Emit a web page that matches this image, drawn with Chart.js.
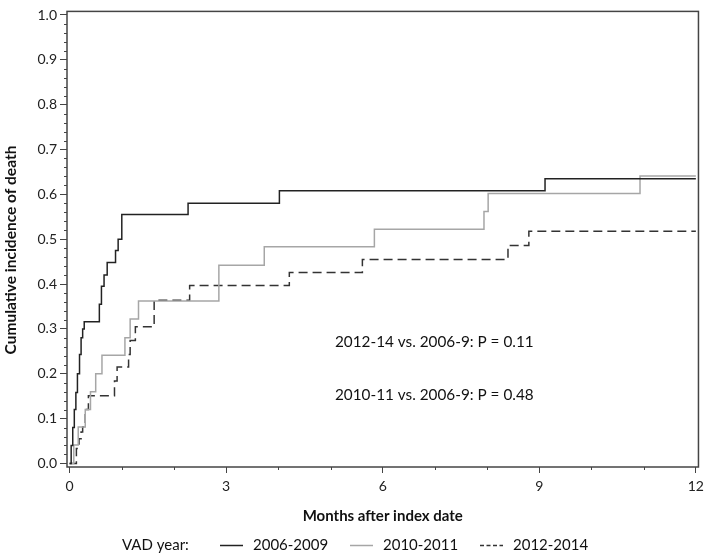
<!DOCTYPE html>
<html>
<head>
<meta charset="utf-8">
<script src="https://cdn.jsdelivr.net/npm/chart.js@4.4.0/dist/chart.umd.min.js"></script>
<style>
    html, body { margin: 0; padding: 0; background: #fff; }
    #wrap { width: 709px; height: 557px; }
</style>
</head>
<body>
<div id="wrap"><canvas id="cifChart" width="709" height="557"></canvas></div>
<script>
// Cumulative incidence of death by VAD year (step points: month of event, cumulative value after it)
const months0609 = [0, 0.03, 0.06, 0.09, 0.12, 0.15, 0.19, 0.22, 0.25, 0.28, 0.57, 0.61, 0.66, 0.72, 0.88, 0.93, 1.0, 2.27, 4.02, 9.11, 12];
const cif0609    = [0, 0.04, 0.08, 0.12, 0.158, 0.2, 0.243, 0.28, 0.3, 0.316, 0.355, 0.395, 0.42, 0.448, 0.475, 0.5, 0.555, 0.58, 0.608, 0.635, 0.635];

const months1011 = [0, 0.08, 0.165, 0.3, 0.4, 0.5, 0.62, 1.06, 1.16, 1.32, 2.86, 3.73, 5.84, 7.94, 8.02, 10.93, 12];
const cif1011    = [0, 0.041, 0.081, 0.12, 0.16, 0.2, 0.241, 0.28, 0.322, 0.362, 0.442, 0.483, 0.522, 0.562, 0.602, 0.641, 0.641];

const months1214 = [0, 0.13, 0.18, 0.22, 0.25, 0.3, 0.36, 0.86, 0.91, 1.13, 1.16, 1.26, 1.62, 2.3, 4.21, 5.61, 8.4, 8.8, 12];
const cif1214    = [0, 0.033, 0.055, 0.07, 0.081, 0.12, 0.151, 0.184, 0.215, 0.243, 0.274, 0.305, 0.364, 0.397, 0.426, 0.455, 0.486, 0.518, 0.518];

const seriesLabels = ['2006-2009', '2010-2011', '2012-2014'];
const xTickValues = [0, 3, 6, 9, 12];
const xMinorTicks = [1, 2, 4, 5, 7, 8, 10, 11];
const yTickValues = [0, 0.1, 0.2, 0.3, 0.4, 0.5, 0.6, 0.7, 0.8, 0.9, 1.0];
const pValueNotes = ['2012-14 vs. 2006-9: P = 0.11', '2010-11 vs. 2006-9: P = 0.48'];

const FONT = 'Lato, "DejaVu Sans", sans-serif';
const AXIS = '#444';

function toPoints(xs, ys) {
    return xs.map((x, i) => ({ x: x, y: ys[i] }));
}

// frame, minor ticks, titles, p-values and the inline legend
const extrasPlugin = {
    id: 'extras',
    afterDraw(chart) {
        const { ctx, chartArea: a, scales: { x, y } } = chart;
        ctx.save();

        ctx.strokeStyle = AXIS;
        ctx.lineWidth = 1.5;
        ctx.strokeRect(a.left, a.top, a.right - a.left, a.bottom - a.top);

        ctx.lineWidth = 1;
        ctx.beginPath();
        xMinorTicks.forEach(m => {
            const px = Math.round(x.getPixelForValue(m)) + 0.5;
            ctx.moveTo(px, a.bottom);
            ctx.lineTo(px, a.bottom + 3);
        });
        for (let k = 0; k <= 50; k++) {
            if (k % 5 === 0) continue;
            const py = Math.round(y.getPixelForValue(k * 0.02)) + 0.5;
            ctx.moveTo(a.left, py);
            ctx.lineTo(a.left - 3, py);
        }
        ctx.stroke();

        ctx.fillStyle = '#111';
        ctx.font = 'bold 15px ' + FONT;
        ctx.textAlign = 'center';
        ctx.textBaseline = 'middle';
        ctx.fillText('Months after index date', (a.left + a.right) / 2, 516);

        ctx.save();
        ctx.translate(11, 250);
        ctx.rotate(-Math.PI / 2);
        ctx.font = 'bold 15.5px ' + FONT;
        ctx.fillText('Cumulative incidence of death', 0, 0);
        ctx.restore();

        ctx.font = '15.3px ' + FONT;
        ctx.textAlign = 'left';
        ctx.fillText(pValueNotes[0], 335, 342);
        ctx.fillText(pValueNotes[1], 335, 395);

        // legend row
        const ly = 545;
        ctx.font = '15px ' + FONT;
        ctx.fillText('VAD year:', 122, ly);
        const samples = [
            { x: 220, color: '#222', dash: [] },
            { x: 350, color: '#a6a6a6', dash: [] },
            { x: 480, color: '#333', dash: [4, 2.5] }
        ];
        samples.forEach((s, i) => {
            ctx.strokeStyle = s.color;
            ctx.lineWidth = 1.5;
            ctx.setLineDash(s.dash);
            ctx.beginPath();
            ctx.moveTo(s.x, ly + 0.5);
            ctx.lineTo(s.x + 23, ly + 0.5);
            ctx.stroke();
            ctx.setLineDash([]);
            ctx.fillText(seriesLabels[i], s.x + 33, ly);
        });

        ctx.restore();
    }
};

new Chart(document.getElementById('cifChart').getContext('2d'), {
    type: 'line',
    data: {
        datasets: [
            {
                label: seriesLabels[0],
                data: toPoints(months0609, cif0609),
                borderColor: '#222',
                borderWidth: 1.5,
                stepped: 'before',
                pointRadius: 0
            },
            {
                label: seriesLabels[1],
                data: toPoints(months1011, cif1011),
                borderColor: '#a6a6a6',
                borderWidth: 1.5,
                stepped: 'before',
                pointRadius: 0
            },
            {
                label: seriesLabels[2],
                data: toPoints(months1214, cif1214),
                borderColor: '#333',
                borderWidth: 1.5,
                borderDash: [9, 5],
                stepped: 'before',
                pointRadius: 0
            }
        ]
    },
    options: {
        responsive: false,
        devicePixelRatio: 1,
        animation: false,
        layout: { padding: { top: 3, right: 6, left: 0, bottom: 0 } },
        plugins: { legend: { display: false }, tooltip: { enabled: false } },
        scales: {
            x: {
                type: 'linear',
                min: -0.05,
                max: 12.05,
                afterBuildTicks: s => { s.ticks = xTickValues.map(v => ({ value: v })); },
                afterFit: s => { s.height = 90; },
                grid: { drawOnChartArea: false, tickLength: 6, color: AXIS, lineWidth: 1 },
                border: { display: false },
                ticks: { color: '#222', font: { family: FONT, size: 14 }, padding: 5, maxRotation: 0 }
            },
            y: {
                type: 'linear',
                min: -0.008,
                max: 1.008,
                afterBuildTicks: s => { s.ticks = yTickValues.map(v => ({ value: v })); },
                afterFit: s => { s.width = 67; },
                grid: { drawOnChartArea: false, tickLength: 7, color: AXIS, lineWidth: 1 },
                border: { display: false },
                ticks: { color: '#222', font: { family: FONT, size: 14 }, padding: 3, callback: v => v.toFixed(1) }
            }
        }
    },
    plugins: [extrasPlugin]
});
</script>
</body>
</html>
